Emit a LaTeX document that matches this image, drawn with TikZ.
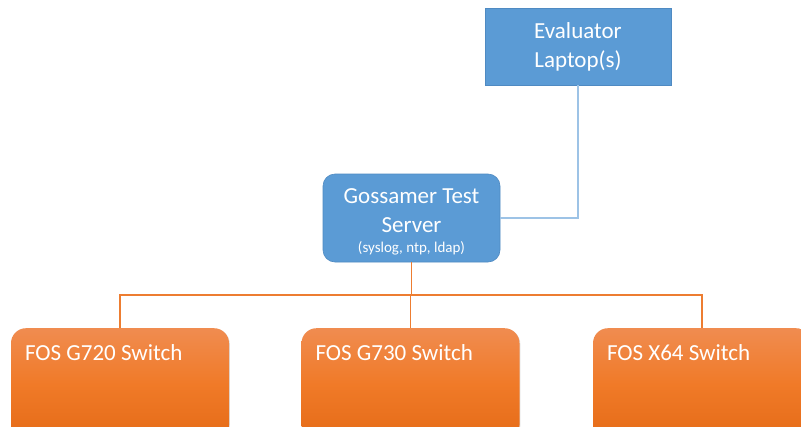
\documentclass[tikz,border=0pt]{standalone}
\usepackage{fontspec}
\setmainfont{Carlito}
\usetikzlibrary{shadows}
\definecolor{offblue}{HTML}{5B9BD5}
\definecolor{blueedge}{HTML}{4F8AC2}
\definecolor{bluelink}{HTML}{9DC3E6}
\definecolor{orlink}{HTML}{ED7D31}
\definecolor{ortop}{HTML}{F08C50}
\definecolor{ormid}{HTML}{F07A28}
\definecolor{orbot}{HTML}{E56B17}
\tikzset{
  bluebox/.style={draw=blueedge, line width=0.6pt, fill=offblue, text=white, align=center, inner sep=0pt,
     font=\fontsize{23}{29}\selectfont},
  switchbox/.style={rectangle, rounded corners=15pt, top color=ortop, bottom color=orbot, middle color=ormid,
     minimum width=218pt, minimum height=112pt, anchor=north, inner sep=0pt,
     drop shadow={shadow xshift=0.8pt, shadow yshift=-0.8pt, opacity=0.25}},
  swlabel/.style={text=white, font=\fontsize{23}{28}\selectfont, inner sep=0pt},
  bluelinkstyle/.style={draw=bluelink, line width=1.2pt},
  orlinkstyle/.style={draw=orlink, line width=1.5pt},
}
\begin{document}
\begin{tikzpicture}[x=1pt,y=-1pt]
\useasboundingbox (0,0) rectangle (801,426);
\clip (0,0) rectangle (801,426);
\fill[white] (0,0) rectangle (801,426);
% Evaluator
\node[bluebox, rectangle, minimum width=186pt, minimum height=77pt] (eval) at (578,46.5) {Evaluator\\Laptop(s)};
% Server
\node[bluebox, rectangle, rounded corners=12pt, minimum width=177pt, minimum height=88pt] (server) at (411.5,218)
  {\rule{0pt}{23pt}Gossamer Test\\Server\\[-9pt]{\fontsize{15}{18}\selectfont (syslog, ntp, ldap)}};
% Switches
\node[switchbox] (g720) at (120,328) {};
\node[switchbox] (g730) at (410.5,328) {};
\node[switchbox] (x64) at (702,328) {};
\node[swlabel, anchor=base west] (g720t) at ([xshift=14pt, yshift=-32pt]g720.north west) {FOS G720 Switch};
\node[swlabel, anchor=base west] (g730t) at ([xshift=14pt, yshift=-32pt]g730.north west) {FOS G730 Switch};
\node[swlabel, anchor=base west] (x64t) at ([xshift=14pt, yshift=-32pt]x64.north west) {FOS X64 Switch};
% Connectors
\coordinate (bus) at (411.5,295);
\draw[bluelinkstyle] (eval.south) |- (server.east);
\draw[orlinkstyle] (server.south) -- (bus);
\draw[orlinkstyle] (bus) -| (g720.north);
\draw[orlinkstyle] (bus) -| (x64.north);
\draw[orlinkstyle] (bus) -| (g730.north);
\end{tikzpicture}
\end{document}
